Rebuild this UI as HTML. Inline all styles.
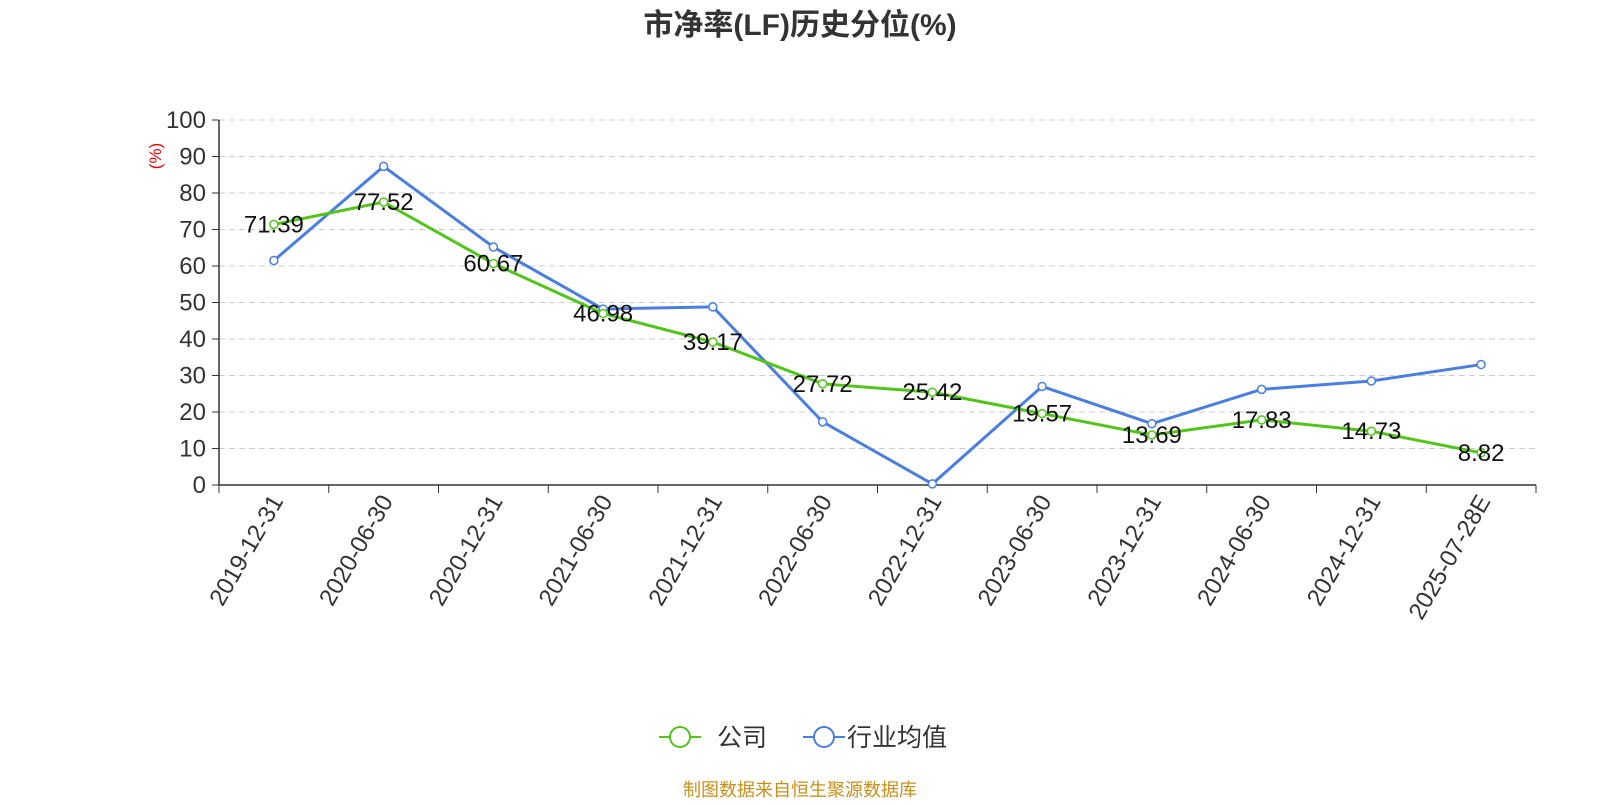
<!DOCTYPE html>
<html><head><meta charset="utf-8"><style>
body{margin:0;background:#fff;}
svg text{font-family:"Liberation Sans","Noto Sans CJK SC",sans-serif;}
</style></head><body>
<svg id="c" width="1600" height="800" xmlns="http://www.w3.org/2000/svg">
<text x="800" y="35" text-anchor="middle" font-size="30" font-weight="bold" fill="#333">市净率(LF)历史分位(%)</text>
<text transform="translate(161,156) rotate(-90)" text-anchor="middle" font-size="17" fill="#e00">(%)</text>
<g id="grid"></g><g id="axes"></g><g id="series"></g>
<g>
<g>
<line x1="659" y1="737" x2="701" y2="737" stroke="#52c41a" stroke-width="2"/>
<circle cx="680" cy="737" r="10" fill="#fff" stroke="#52c41a" stroke-width="2"/>
<text x="717" y="746" font-size="25" fill="#333">公司</text></g>
<g>
<line x1="803" y1="737" x2="845" y2="737" stroke="#4a7fe0" stroke-width="2"/>
<circle cx="824" cy="737" r="10" fill="#fff" stroke="#4a7fe0" stroke-width="2"/>
<text x="847" y="746" font-size="25" fill="#333">行业均值</text></g>
</g>
<text x="800" y="796" text-anchor="middle" font-size="18" fill="#c8901a">制图数据来自恒生聚源数据库</text>
</svg>
<script>
const categories=["2019-12-31","2020-06-30","2020-12-31","2021-06-30","2021-12-31","2022-06-30","2022-12-31","2023-06-30","2023-12-31","2024-06-30","2024-12-31","2025-07-28E"];
const companyValues=[71.39,77.52,60.67,46.98,39.17,27.72,25.42,19.57,13.69,17.83,14.73,8.82];
const industryValues=[61.5,87.3,65.2,48.2,48.8,17.3,0.3,27.0,16.8,26.2,28.5,33.0];
const yTicks=[0,10,20,30,40,50,60,70,80,90,100];
const NS="http://www.w3.org/2000/svg";
const L=219,R=1536,T=120,B=485;
const bw=(R-L)/categories.length;
const x=i=>L+bw*(i+0.5);
const y=v=>B-(v/100)*(B-T);
function mk(tag,attrs,parent,text){const e=document.createElementNS(NS,tag);for(const k in attrs)e.setAttribute(k,attrs[k]);if(text!=null)e.textContent=text;parent.appendChild(e);return e;}
const grid=document.getElementById('grid'),axes=document.getElementById('axes'),ser=document.getElementById('series');
yTicks.forEach(t=>{
 if(t>0){const g=mk('line',{x1:L,x2:R,y1:y(t),y2:y(t),stroke:'#ccc','stroke-dasharray':'6,4'},grid);
 
 }
 mk('line',{x1:L-7,x2:L,y1:y(t),y2:y(t),stroke:'#333'},axes);
 const tl=mk('text',{x:L-13,y:y(t)+8,'text-anchor':'end','font-size':24,fill:'#333'},axes,t);
 
 
});
mk('line',{x1:L,x2:L,y1:T,y2:B,stroke:'#333','stroke-width':1.5},axes);
mk('line',{x1:L,x2:R,y1:B,y2:B,stroke:'#333','stroke-width':1.5},axes);
for(let i=0;i<=categories.length;i++)mk('line',{x1:L+bw*i,x2:L+bw*i,y1:B,y2:B+8,stroke:'#333'},axes);
categories.forEach((c,i)=>{
 const t=mk('text',{transform:`translate(${x(i)+10},${B+16}) rotate(-60)`,'text-anchor':'end','font-size':24,fill:'#333'},axes,c);
 
 
});
function series(vals,color,name,labels){
 const p=mk('polyline',{points:vals.map((v,i)=>x(i)+','+y(v)).join(' '),fill:'none',stroke:color,'stroke-width':3},ser);
 
 
 vals.forEach((v,i)=>{
  const c=mk('circle',{cx:x(i),cy:y(v),r:4,fill:'#fff',stroke:color,'stroke-width':1.5},ser);
  
  
 });
 if(labels)vals.forEach((v,i)=>{
  const t=mk('text',{x:x(i),y:y(v)+8,'text-anchor':'middle','font-size':24,fill:'#111'},ser,v.toFixed(2));
  
  
 });
}
series(industryValues,'#4a7fe0','industry',false);
series(companyValues,'#52c41a','company',true);
</script>
</body></html>
